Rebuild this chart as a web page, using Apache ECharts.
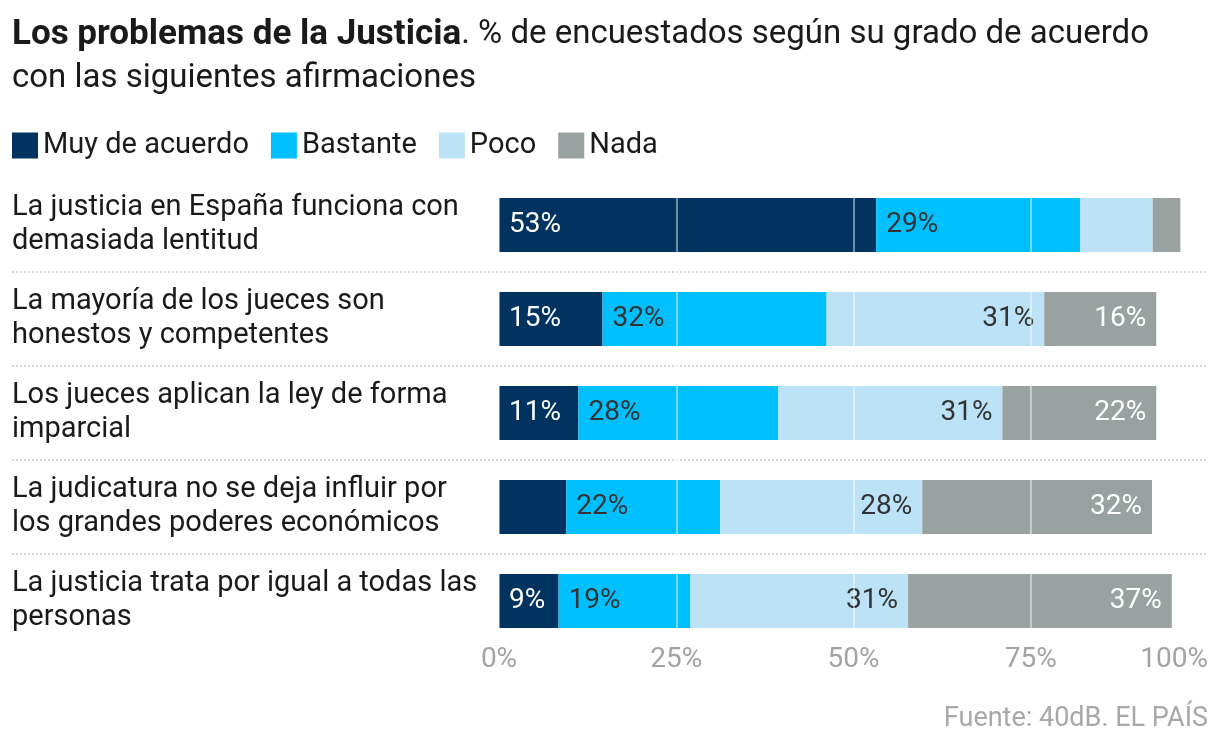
<!DOCTYPE html>
<html>
<head>
<meta charset="utf-8">
<script src="https://cdn.jsdelivr.net/npm/echarts@6/dist/echarts.min.js"></script>
<style>
  html, body { margin: 0; background: #fff; }
  #chart { width: 1220px; height: 750px; }
</style>
</head>
<body>
<div id="chart"></div>
<script>
  var categories = [
    "La justicia en España funciona con\ndemasiada lentitud",
    "La mayoría de los jueces son\nhonestos y competentes",
    "Los jueces aplican la ley de forma\nimparcial",
    "La judicatura no se deja influir por\nlos grandes poderes económicos",
    "La justicia trata por igual a todas las\npersonas"
  ];
  var seriesNames = ["Muy de acuerdo", "Bastante", "Poco", "Nada"];
  var muyDeAcuerdo = [53.2, 14.6, 11.2, 9.5, 8.4];
  var bastante = [28.8, 31.6, 28.2, 21.7, 18.6];
  var poco = [10.2, 30.7, 31.6, 28.5, 30.7];
  var nada = [3.9, 15.8, 21.7, 32.4, 37.2];
  // etiquetas tal como aparecen (null = sin etiqueta)
  var muyLabels = [53, 15, 11, null, 9];
  var bastanteLabels = [29, 32, 28, 22, 19];
  var pocoLabels = [null, 31, 31, 28, 31];
  var nadaLabels = [null, 16, 22, 32, 37];
  var xTicks = [0, 25, 50, 75, 100];

  var FONT = "Roboto";
  var colors = ["#00335f", "#00bfff", "#bbe2f7", "#9aa2a1"];

  function makeSeries(name, values, labels, color, textColor, pos) {
    return {
      name: name,
      type: "bar",
      stack: "total",
      barWidth: 54,
      xAxisIndex: 0,
      yAxisIndex: 0,
      data: values.map(function (v, i) {
        return { value: v, label: { show: labels[i] != null } };
      }),
      itemStyle: { color: color },
      label: {
        position: pos,
        distance: 10,
        color: textColor,
        fontFamily: FONT,
        fontSize: 28,
        formatter: function (p) { return labels[p.dataIndex] + "%"; }
      }
    };
  }

  var chart = echarts.init(document.getElementById("chart"));
  chart.setOption({
    backgroundColor: "#fff",
    animation: false,
    title: [{
      left: 12,
      top: 13,
      padding: 0,
      text: "{b|Los problemas de la Justicia}{r|. % de encuestados según su grado de acuerdo}\n{r|con las siguientes afirmaciones}",
      textStyle: {
        rich: {
          b: { fontFamily: FONT, fontWeight: "bold", fontSize: 35, color: "#1a1a1a", lineHeight: 44 },
          r: { fontFamily: FONT, fontWeight: "normal", fontSize: 33, color: "#1a1a1a", lineHeight: 44 }
        }
      }
    }, {
      right: 12,
      top: 706,
      padding: 0,
      text: "Fuente: 40dB. EL PAÍS",
      textStyle: { fontFamily: FONT, fontWeight: "normal", fontSize: 27, color: "#a8a8a8" }
    }],
    legend: {
      left: 12,
      top: 131,
      padding: 0,
      icon: "rect",
      itemWidth: 26,
      itemHeight: 26,
      itemGap: 22,
      selectedMode: false,
      data: seriesNames,
      textStyle: { fontFamily: FONT, fontSize: 29, color: "#1a1a1a" }
    },
    grid: [
      { left: 499, right: 12, top: 178, bottom: 102 },
      { left: 12, right: 13, top: 178, bottom: 102 }
    ],
    xAxis: [{
      type: "value",
      gridIndex: 0,
      min: xTicks[0],
      max: xTicks[xTicks.length - 1],
      interval: 25,
      z: 10,
      axisLine: { show: false },
      axisTick: { show: false },
      splitLine: { show: true, lineStyle: { color: "rgba(255,255,255,0.45)", width: 2 } },
      axisLabel: {
        formatter: "{value}%",
        color: "#a3a3a3",
        fontFamily: FONT,
        fontSize: 28,
        verticalAlign: "middle",
        margin: 12,
        alignMaxLabel: "right"
      }
    }, {
      type: "value",
      gridIndex: 1,
      min: 0,
      max: 100,
      show: false
    }],
    yAxis: [{
      type: "category",
      gridIndex: 0,
      inverse: true,
      data: categories,
      axisLine: { show: false },
      axisTick: { show: false },
      splitLine: { show: false },
      axisLabel: {
        align: "left",
        margin: 487,
        color: "#1a1a1a",
        fontFamily: FONT,
        fontSize: 29,
        lineHeight: 34
      }
    }, {
      // separadores punteados entre filas
      type: "value",
      gridIndex: 1,
      inverse: true,
      min: 0,
      max: categories.length,
      interval: 1,
      axisLine: { show: false },
      axisTick: { show: false },
      axisLabel: { show: false },
      splitLine: {
        show: true,
        showMinLine: false,
        showMaxLine: false,
        lineStyle: { color: "#d6d6d6", width: 2, type: [2, 2] }
      }
    }],
    series: [
      makeSeries(seriesNames[0], muyDeAcuerdo, muyLabels, colors[0], "#fff", "insideLeft"),
      makeSeries(seriesNames[1], bastante, bastanteLabels, colors[1], "#333", "insideLeft"),
      makeSeries(seriesNames[2], poco, pocoLabels, colors[2], "#333", "insideRight"),
      makeSeries(seriesNames[3], nada, nadaLabels, colors[3], "#fff", "insideRight")
    ]
  });
</script>
</body>
</html>
